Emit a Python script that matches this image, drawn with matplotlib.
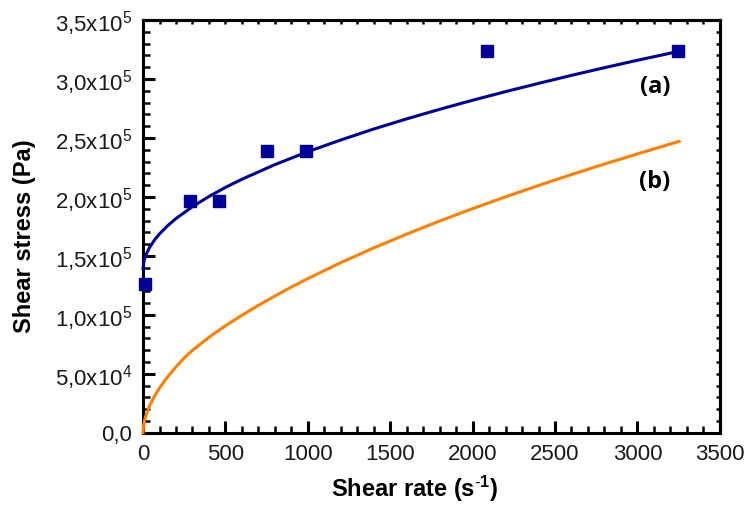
import matplotlib
matplotlib.use("Agg")
import matplotlib.pyplot as plt
from matplotlib.ticker import MultipleLocator, FixedLocator

# Experimental data (squares)
rate_exp = [10, 285, 461, 754, 987, 2088, 3247]
stress_exp = [1.26e5, 1.965e5, 1.965e5, 2.39e5, 2.39e5, 3.235e5, 3.235e5]

# Curve (a)
rate_a = [0, 5, 10, 20, 40, 70, 100, 150, 200, 300, 400, 500, 600, 800, 1000,
          1200, 1400, 1600, 1800, 2000, 2200, 2400, 2600, 2800, 3000, 3237]
stress_a = [1.39e5, 1.452e5, 1.479e5, 1.517e5, 1.573e5, 1.636e5, 1.687e5,
            1.757e5, 1.817e5, 1.918e5, 2.004e5, 2.081e5, 2.150e5, 2.274e5,
            2.384e5, 2.483e5, 2.576e5, 2.662e5, 2.743e5, 2.820e5, 2.893e5,
            2.963e5, 3.031e5, 3.096e5, 3.159e5, 3.23e5]

# Curve (b)
rate_b = [0, 0.5, 1, 2, 5, 10, 20, 40, 60, 83, 100, 130, 160, 200, 250, 300,
          400, 500, 600, 700, 800, 900, 1000, 1200, 1400, 1600, 1800, 2000,
          2200, 2400, 2600, 2800, 3000, 3253]
stress_b = [0, 0.022e5, 0.032e5, 0.046e5, 0.075e5, 0.109e5, 0.159e5,
            0.231e5, 0.287e5, 0.342e5, 0.38e5, 0.44e5, 0.493e5, 0.56e5,
            0.635e5, 0.70e5, 0.81e5, 0.908e5, 0.997e5, 1.081e5, 1.160e5,
            1.236e5, 1.308e5, 1.443e5, 1.568e5, 1.685e5, 1.796e5, 1.901e5,
            2.001e5, 2.097e5, 2.19e5, 2.279e5, 2.365e5, 2.471e5]

ytick_vals = [0, 5e4, 1e5, 1.5e5, 2e5, 2.5e5, 3e5, 3.5e5]
ytick_labels = ['0,0', '5,0x10$^{4}$', '1,0x10$^{5}$', '1,5x10$^{5}$',
                '2,0x10$^{5}$', '2,5x10$^{5}$', '3,0x10$^{5}$', '3,5x10$^{5}$']
xtick_vals = [0, 500, 1000, 1500, 2000, 2500, 3000, 3500]

plt.rcParams['font.family'] = ['Liberation Sans', 'DejaVu Sans']
plt.rcParams['mathtext.fontset'] = 'custom'
plt.rcParams['mathtext.rm'] = 'Liberation Sans'
plt.rcParams['mathtext.bf'] = 'Liberation Sans:bold'
plt.rcParams['mathtext.default'] = 'rm'

fig = plt.figure(figsize=(7.49, 5.14), dpi=100)
ax = fig.add_axes([0.191, 0.158, 0.770, 0.803])

blue = '#000099'
orange = '#FF8000'

ax.plot(rate_a, stress_a, color=blue, lw=2.2, zorder=3, solid_joinstyle='round',
        clip_on=False)
ax.plot(rate_b, stress_b, color=orange, lw=2.2, zorder=3, solid_joinstyle='round',
        clip_on=False)
ax.plot(rate_exp, stress_exp, 's', color=blue, ms=9, zorder=4, clip_on=False)

ax.set_xlim(0, 3500)
ax.set_ylim(0, 3.5e5)
ax.xaxis.set_major_locator(FixedLocator(xtick_vals))
ax.xaxis.set_minor_locator(MultipleLocator(100))
ax.yaxis.set_major_locator(FixedLocator(ytick_vals))
ax.yaxis.set_minor_locator(MultipleLocator(1e4))
ax.set_yticklabels(ytick_labels)
ax.set_xticklabels([str(v) for v in xtick_vals])

ax.tick_params(which='major', direction='in', length=8.5, width=2.2, labelsize=16,
               pad=8, colors='black')
ax.tick_params(which='minor', direction='in', length=5, width=1.8)
ax.tick_params(axis='both', labelcolor='#1a1a1a')

for s in ax.spines.values():
    s.set_linewidth(2.2)

# top/right small ticks
secx = ax.secondary_xaxis('top')
secx.xaxis.set_major_locator(MultipleLocator(100))
secx.tick_params(direction='in', length=3, width=1.8, labeltop=False)
secx.set_xticklabels([])
secx.spines['top'].set_linewidth(2.2)
secy = ax.secondary_yaxis('right')
secy.yaxis.set_major_locator(MultipleLocator(1e4))
secy.tick_params(direction='in', length=3, width=1.8, labelright=False)
secy.set_yticklabels([])
secy.spines['right'].set_linewidth(2.2)

lab_font = dict(family=['Liberation Sans', 'DejaVu Sans'], fontweight='bold',
                fontsize=17)
fig.text(415 / 749, 1 - 489 / 514, 'Shear rate (s$^{\\mathbf{\\text{-}1}}$)',
         ha='center', va='center', **lab_font)
fig.text(24 / 749, 1 - 236 / 514, 'Shear stress (Pa)', rotation=90,
         ha='center', va='center', **lab_font)

ax.text(3106, 2.93e5, '(a)', ha='center', va='center', fontsize=17,
        fontweight='bold', family=['Open Sans', 'DejaVu Sans'])
ax.text(3106, 2.13e5, '(b)', ha='center', va='center', fontsize=17,
        fontweight='bold', family=['Open Sans', 'DejaVu Sans'])

fig.savefig('out.png', dpi=100)
